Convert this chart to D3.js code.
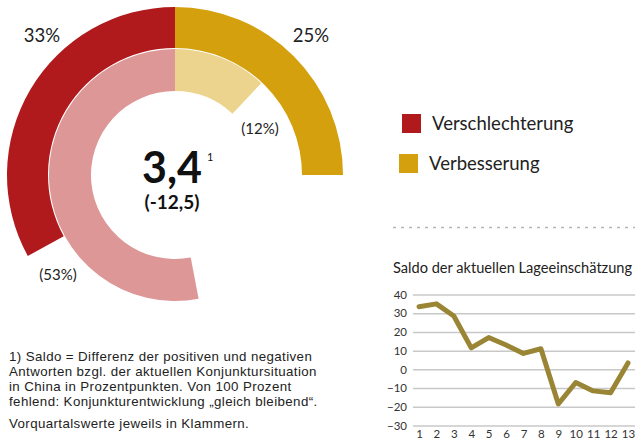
<!DOCTYPE html>
<html>
<head>
<meta charset="utf-8">
<script src="https://cdn.jsdelivr.net/npm/d3@7"></script>
<style>
  body { margin: 0; background: #fff; }
  svg { display: block; font-family: Lato, "Liberation Sans", sans-serif; }
</style>
</head>
<body>
<svg id="chart" width="635" height="439"></svg>
<script>
// current quarter (outer ring) and previous quarter (inner ring), percent
const categories = ["Verschlechterung", "Verbesserung"];
const currentShares = [33, 25];
const previousShares = [53, 12];
const saldoNow = "3,4";
const saldoPrev = "(-12,5)";

// small line chart
const quarters = [1, 2, 3, 4, 5, 6, 7, 8, 9, 10, 11, 12, 13];
const saldoSeries = [33.5, 35, 28.5, 11.5, 17, 13, 8.5, 11, -18.5, -7, -11.5, -12.5, 3.4];
const yTicks = [40, 30, 20, 10, 0, -10, -20, -30];

const footnote = [
  "1) Saldo = Differenz der positiven und negativen",
  "Antworten bzgl. der aktuellen Konjunktursituation",
  "in China in Prozentpunkten. Von 100 Prozent",
  "fehlend: Konjunkturentwicklung \u201egleich bleibend\u201c."
];
const footnote2 = "Vorquartalswerte jeweils in Klammern.";

const darkColors = ["#B01A1D", "#D4A00E"];
const lightColors = ["#DE9797", "#ECD48F"];

const svg = d3.select("#chart");

// ---- donut ----
const cx = 175, cy = 175;
const angle = d3.scaleLinear().domain([0, 100]).range([0, 2 * Math.PI]);

const g = svg.append("g").attr("transform", `translate(${cx},${cy})`);

// red grows counter-clockwise from 12 o'clock, yellow clockwise
function ringArcs(shares) {
  return [
    { start: -angle(shares[0]), end: 0 },
    { start: 0, end: angle(shares[1]) }
  ];
}

const outerArc = d3.arc().innerRadius(127).outerRadius(168);
const innerArc = d3.arc().innerRadius(84).outerRadius(126);

g.selectAll(".outer")
  .data(ringArcs(currentShares))
  .join("path")
  .attr("class", "outer")
  .attr("d", (d) => outerArc({ startAngle: d.start, endAngle: d.end }))
  .attr("fill", (d, i) => darkColors[i]);

g.selectAll(".inner")
  .data(ringArcs(previousShares))
  .join("path")
  .attr("class", "inner")
  .attr("d", (d) => innerArc({ startAngle: d.start, endAngle: d.end }))
  .attr("fill", (d, i) => lightColors[i]);

// percent labels
const labelPos = [
  { x: 42, y: 42, text: currentShares[0] + "%", size: 18.5 },
  { x: 311, y: 42, text: currentShares[1] + "%", size: 18.5 },
  { x: 58, y: 280, text: "(" + previousShares[0] + "%)", size: 15 },
  { x: 260, y: 134, text: "(" + previousShares[1] + "%)", size: 15 }
];
svg.selectAll(".pct")
  .data(labelPos)
  .join("text")
  .attr("class", "pct")
  .attr("x", (d) => d.x)
  .attr("y", (d) => d.y)
  .attr("text-anchor", "middle")
  .attr("font-size", (d) => d.size)
  .attr("fill", "#222")
  .text((d) => d.text);

// centre value
svg.append("text")
  .attr("x", 172).attr("y", 183)
  .attr("text-anchor", "middle")
  .attr("font-size", 43).attr("font-weight", "bold")
  .attr("fill", "#111")
  .text(saldoNow);
svg.append("text")
  .attr("x", 207).attr("y", 161)
  .attr("font-size", 11).attr("fill", "#111")
  .text("1");
svg.append("text")
  .attr("x", 172).attr("y", 209)
  .attr("text-anchor", "middle")
  .attr("font-size", 19).attr("font-weight", "bold")
  .attr("fill", "#111")
  .text(saldoPrev);

// ---- legend ----
const legend = svg.selectAll(".leg")
  .data(categories)
  .join("g")
  .attr("class", "leg")
  .attr("transform", (d, i) => `translate(${402 - i * 3},${114 + i * 40})`);
legend.append("rect")
  .attr("width", 19).attr("height", 19)
  .attr("fill", (d, i) => darkColors[i]);
legend.append("text")
  .attr("x", 30).attr("y", 15.5)
  .attr("font-size", 18.5).attr("fill", "#222")
  .text((d) => d);

// dotted separator
svg.append("line")
  .attr("x1", 393).attr("x2", 635)
  .attr("y1", 227.5).attr("y2", 227.5)
  .attr("stroke", "#b5b5b5").attr("stroke-width", 1.5)
  .attr("stroke-dasharray", "3,5");

// ---- line chart ----
svg.append("text")
  .attr("x", 393).attr("y", 273)
  .attr("font-size", 14.6).attr("fill", "#222")
  .text("Saldo der aktuellen Lageeinschätzung");

const x = d3.scaleLinear().domain([1, 13]).range([419, 628]);
const y = d3.scaleLinear().domain([-30, 40]).range([425.5, 294.5]);

const yAxis = svg.append("g")
  .attr("transform", "translate(413,0)")
  .call(d3.axisLeft(y).tickValues(yTicks).tickSize(-(635 - 413)).tickPadding(6));
yAxis.select(".domain").remove();
yAxis.selectAll(".tick line").attr("stroke", "#c8c8c8").attr("stroke-width", 1.5);
yAxis.selectAll(".tick text")
  .attr("font-family", "Lato, sans-serif")
  .attr("font-size", 11.5).attr("fill", "#333");

const xAxis = svg.append("g")
  .attr("transform", `translate(0,${y(-30)})`)
  .call(d3.axisBottom(x).tickValues(quarters).tickSize(0).tickPadding(4.5).tickFormat(d3.format("d")));
xAxis.select(".domain").remove();
xAxis.selectAll(".tick text")
  .attr("font-family", "Lato, sans-serif")
  .attr("font-size", 11.5).attr("fill", "#333");

const line = d3.line()
  .x((d, i) => x(quarters[i]))
  .y((d) => y(d));

svg.append("path")
  .datum(saldoSeries)
  .attr("d", line)
  .attr("fill", "none")
  .attr("stroke", "#9A8535")
  .attr("stroke-width", 5)
  .attr("stroke-linejoin", "round")
  .attr("stroke-linecap", "round");

// ---- footnote ----
// Liberation Sans has a tighter line box, so 15px line spacing doesn't collide
svg.selectAll(".fn")
  .data(footnote)
  .join("text")
  .attr("class", "fn")
  .attr("x", 9)
  .attr("y", (d, i) => 361 + i * 15)
  .attr("font-family", "'Liberation Sans', sans-serif")
  .attr("font-size", 13.3).attr("letter-spacing", 0.4).attr("fill", "#222")
  .text((d) => d);
svg.append("text")
  .attr("x", 9).attr("y", 428)
  .attr("font-family", "'Liberation Sans', sans-serif")
  .attr("font-size", 13.3).attr("letter-spacing", 0.4).attr("fill", "#222")
  .text(footnote2);
</script>
</body>
</html>
